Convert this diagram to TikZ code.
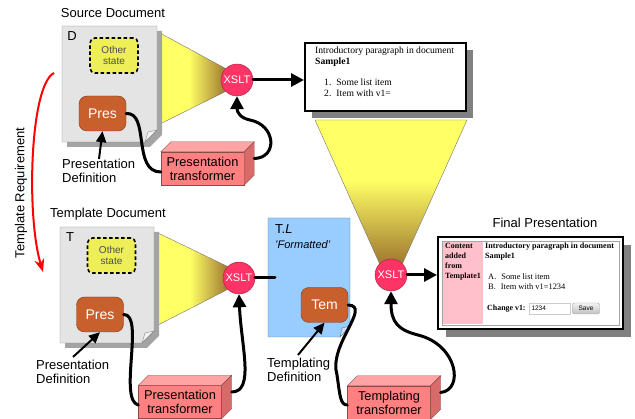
\documentclass[tikz,border=0pt]{standalone}
\usepackage{fontspec}
\setmainfont{Liberation Sans}
\newfontfamily\docfont{Liberation Serif}
\usetikzlibrary{arrows.meta,shadows,backgrounds}

\definecolor{pagegray}{HTML}{E4E4E4}
\definecolor{pageedge}{HTML}{8C8C8C}
\definecolor{pageshadow}{HTML}{A4A4A4}
\definecolor{presorange}{HTML}{C8602E}
\definecolor{presedge}{HTML}{7A3A1A}
\definecolor{stateyellow}{HTML}{EEEE58}
\definecolor{xsltred}{HTML}{FF3366}
\definecolor{xsltedge}{HTML}{A0203E}
\definecolor{transfront}{HTML}{FF8080}
\definecolor{transtop}{HTML}{FFA4A4}
\definecolor{transside}{HTML}{D86A6A}
\definecolor{transedge}{HTML}{8A4A4A}
\definecolor{tlblue}{HTML}{99CCFF}
\definecolor{tledge}{HTML}{5A7A9A}
\definecolor{coneyel}{HTML}{FFFF66}
\definecolor{conebrn}{HTML}{A07830}
\definecolor{colpink}{HTML}{FFC0CB}

\pgfdeclarehorizontalshading{conelr}{100bp}{color(0bp)=(coneyel); color(48bp)=(coneyel); color(75bp)=(conebrn); color(100bp)=(conebrn)}
\pgfdeclareverticalshading{conetb}{100bp}{color(0bp)=(conebrn); color(25bp)=(conebrn); color(54bp)=(coneyel); color(100bp)=(coneyel)}
\pgfdeclareverticalshading{savebtn}{100bp}{color(0bp)=(black!25); color(25bp)=(black!25); color(75bp)=(black!5); color(100bp)=(black!5)}

\newcommand\lblsize{\fontsize{13}{14}\selectfont}
\newcommand\docsize{\fontsize{9.6}{11}\selectfont}
\newcommand\finsize{\fontsize{8.4}{10}\selectfont}

\tikzset{
  lbl/.style={font=\lblsize, inner sep=0pt, align=left},
  pagefill/.style={fill=pagegray, draw=pageedge},
  statebox/.style={fill=stateyellow, draw=black, line width=1.6pt, dash pattern=on 3.5pt off 2.5pt,
    rounded corners=5pt, minimum width=48pt, minimum height=35pt, align=center,
    font=\fontsize{10}{11.5}\selectfont, text=black!70},
  presbox/.style={fill=presorange, draw=presedge, rounded corners=8pt, minimum width=47pt,
    minimum height=35pt, text=white, font=\fontsize{14}{16}\selectfont},
  xsltnode/.style={circle, fill=xsltred, draw=xsltedge, minimum size=32pt, inner sep=0pt,
    text=white, font=\fontsize{11}{12}\selectfont},
  transbox/.style={fill=transfront, draw=transedge, minimum width=83pt, minimum height=33pt,
    inner sep=0pt, align=center, font=\fontsize{12.8}{14}\selectfont},
  transtopface/.style={fill=transtop, draw=transedge},
  transsideface/.style={fill=transside, draw=transedge},
  flow/.style={line width=3pt, line cap=round},
  flowarrow/.style={flow, -{Triangle[length=13pt,width=13pt]}},
  defarrow/.style={line width=2pt, -{Triangle[length=11pt,width=10pt]}},
  doctext/.style={font=\docfont\docsize, inner sep=0pt, anchor=west},
  fintext/.style={font=\docfont\finsize, inner sep=0pt, anchor=west},
}

\begin{document}
\begin{tikzpicture}[x=1pt,y=-1pt]
  \useasboundingbox (0,0) rectangle (635,419);

  % 円錐
  \node[xsltnode] (xsltA) at (237,80) {XSLT};
  \node[xsltnode] (xsltB) at (239,278) {XSLT};
  \node[xsltnode] (xsltC) at (391,275) {XSLT};
  \begin{scope}[on background layer]
    \shade[shading=conelr, draw=black!55] (158,32) -- (xsltA.north west) -- (xsltA.south west) -- (158,125) -- cycle;
    \shade[shading=conelr, draw=black!55] (158,233) -- (xsltB.north west) -- (xsltB.south west) -- (158,325) -- cycle;
    \shade[shading=conetb, draw=black!55] (315,120) -- (467,120) -- (xsltC.north east) -- (xsltC.north west) -- cycle;
  \end{scope}

  % Source Document
  \node[lbl] (srcTitle) at (113,13) {Source Document};
  \fill[pageshadow] (67,31) -- (162,31) -- (162,135) -- (150,147) -- (67,147) -- cycle;
  \draw[pagefill] (62,26) -- (157,26) -- (157,130) -- (145,142) -- (62,142) -- cycle;
  \draw[fill=white!95!black, draw=pageedge] (145,142) -- (157,130) -- (148,132) -- cycle;
  \node[lbl] (srcD) at (72,36) {D};
  \node[statebox] (srcState) at (114,55.5) {Other\\state};
  \node[presbox] (srcPres) at (102.5,113.5) {Pres};
  \node[lbl] (srcDef) at (62,171) [anchor=west] {Presentation\\Definition};

  % Template Document
  \node[lbl] (tplTitle) at (108,214) {Template Document};
  \fill[pageshadow] (65,232) -- (159,232) -- (159,336) -- (147,348) -- (65,348) -- cycle;
  \draw[pagefill] (60,227) -- (154,227) -- (154,331) -- (142,343) -- (60,343) -- cycle;
  \draw[fill=white!95!black, draw=pageedge] (142,343) -- (154,331) -- (145,333) -- cycle;
  \node[lbl] (tplT) at (70,237) {T};
  \node[statebox] (tplState) at (111.5,255.5) {Other\\state};
  \node[presbox] (tplPres) at (100,314.5) {Pres};
  \node[lbl] (tplDef) at (36,372) [anchor=west] {Presentation\\Definition};

  % T.L
  \draw[fill=tlblue, draw=tledge] (268,218) -- (350,218) -- (350,326) -- (340,337) -- (268,337) -- cycle;
  \draw[fill=tlblue!55!white, draw=tledge] (340,337) -- (350,326) -- (342,328) -- cycle;
  \node[lbl] (tlName) at (275,229) [anchor=west] {T.\textit{L}};
  \node[lbl, font=\fontsize{11}{12}\selectfont\itshape] (tlFmt) at (275,245) [anchor=west] {'Formatted'};
  \node[presbox] (tlTem) at (324.5,305) {Tem};
  \node[lbl] (tlDef) at (267,370) [anchor=west] {Templating\\Definition};

  % 変換器
  \node[transbox] (presTransA) at (202.5,168.5) {Presentation\\transformer};
  \node[transbox] (presTransB) at (180,402) {Presentation\\transformer};
  \node[transbox] (tplTrans) at (389,402.5) {Templating\\transformer};
  \foreach \t in {presTransA,presTransB,tplTrans}{
    \draw[transtopface] (\t.north west) -- ([shift={(10,-10)}]\t.north west) -- ([shift={(10,-10)}]\t.north east) -- (\t.north east) -- cycle;
    \draw[transsideface] (\t.north east) -- ([shift={(10,-10)}]\t.north east) -- ([shift={(10,-10)}]\t.south east) -- (\t.south east) -- cycle;
  }

  % 出力
  \node[draw=black, line width=2pt, fill=white, minimum width=161pt, minimum height=68pt,
    drop shadow={shadow xshift=7pt, shadow yshift=-7pt, fill=black!50, opacity=1}] (outDoc) at (385.5,77) {};
  \node[doctext] (outIntro) at (315,51) {Introductory paragraph in document};
  \node[doctext] (outSample) at (315,62) {\bfseries Sample1};
  \node[doctext] (outItemA) at (324,82) {1.\hspace{5pt}Some list item};
  \node[doctext] (outItemB) at (324,93) {2.\hspace{5pt}Item with v1=};

  \node[lbl] (finTitle) at (545,223) {Final Presentation};
  \node[draw=black, line width=2pt, fill=white, minimum width=185pt, minimum height=92pt,
    drop shadow={shadow xshift=8pt, shadow yshift=-8pt, fill=black!50, opacity=1}] (finDoc) at (530.5,283) {};
  \draw[black!35] (442,241) rectangle (619,325);
  \fill[colpink] (443,242) rectangle (483,324);
  \node[fintext, align=left, font=\docfont\fontsize{8}{10}\selectfont\bfseries] (finSide) at (445,262) {Content\\added\\from\\Template1};
  \node[fintext, font=\docfont\fontsize{8.1}{10}\selectfont\bfseries] (finIntro) at (485,247) {Introductory paragraph in document};
  \node[fintext, font=\docfont\fontsize{8.1}{10}\selectfont\bfseries] (finSample) at (485,257) {Sample1};
  \node[fintext] (finItemA) at (488,277) {A.\hspace{5pt}Some list item};
  \node[fintext] (finItemB) at (488,287) {B.\hspace{5pt}Item with v1=1234};
  \node[fintext, font=\docfont\fontsize{7.9}{10}\selectfont\bfseries] (finChange) at (487,308.5) {Change v1:};
  \node[draw=black!20, fill=white, minimum width=41pt, minimum height=11pt, inner sep=1pt,
    font=\fontsize{6.5}{7}\selectfont, text width=37pt, align=left] (finInput) at (550,308.5) {1234};
  \node[shading=savebtn, draw=black!35, rounded corners=1.5pt, minimum width=27pt, minimum height=11pt,
    inner sep=0pt, font=\fontsize{6.5}{7}\selectfont] (finSave) at (586,308.5) {Save};

  % 流れ
  \draw[flowarrow] (xsltA.east) -- (xsltA.east -| outDoc.west);
  \draw[flow] (xsltB.east) -- (xsltB.east -| tlName.west);
  \draw[flowarrow] (xsltC.east) -- (xsltC.east -| finDoc.west);

  \draw[flow] (srcPres.east) .. controls (150,112) and (132,172) .. (presTransA.west |- 0,172);
  \draw[flowarrow] ([shift={(10,-10)}]presTransA.east) .. controls (278,158) and (276,125) .. (250,120) .. controls (240,118) and (237,112) .. (xsltA.south);
  \draw[flow] (tplPres.east) .. controls (145,314) and (118,400) .. (presTransB.west |- 0,405);
  \draw[flowarrow] ([shift={(10,-10)}]presTransB.east) .. controls (255,392) and (241,345) .. (xsltB.south);
  \draw[flow] (tlTem.east) .. controls (372,306) and (328,345) .. (337,375) .. controls (340,395) and (340,405) .. (tplTrans.west |- 0,405);
  \draw[flowarrow] ([shift={(10,-10)}]tplTrans.east) .. controls (464,390) and (458,345) .. (418,335) .. controls (398,330) and (391,322) .. (xsltC.south);

  \draw[defarrow] (srcDef.north -| 99,0) -- (srcPres.south);
  \draw[defarrow] (73,357) -- (tplPres.south);
  \draw[defarrow] (298,355) -- (tlTem.south);

  % テンプレート要求
  \coordinate (reqStart) at (54,73);
  \coordinate (reqEnd) at (43,272);
  \draw[red, line width=2pt, -{Stealth[length=13pt,width=10pt]}] (reqStart) .. controls (30,85) and (26,215) .. (reqEnd);
  \node[lbl, rotate=90] (reqLabel) at (21,193) {Template Requirement};
\end{tikzpicture}
\end{document}
